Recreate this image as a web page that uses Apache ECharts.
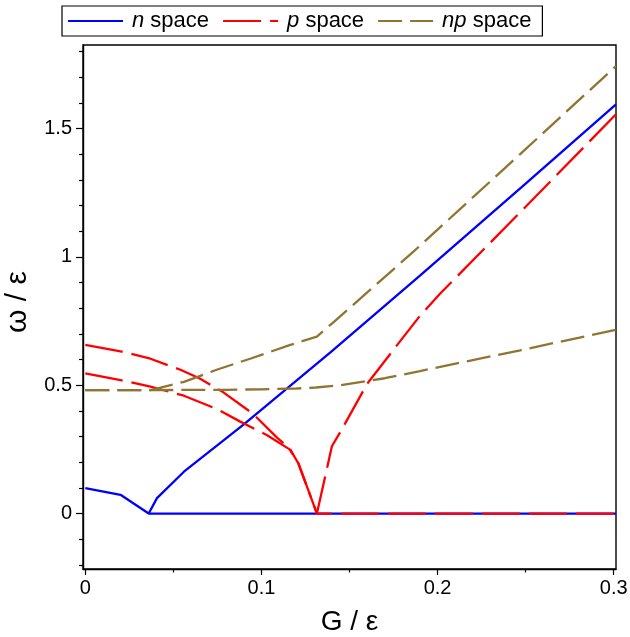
<!DOCTYPE html>
<html>
<head>
<meta charset="utf-8">
<script src="https://cdn.jsdelivr.net/npm/echarts@6/dist/echarts.min.js"></script>
<style>
html,body{margin:0;padding:0;background:#fff;}
#chart{width:630px;height:637px;}
</style>
</head>
<body>
<div id="chart"></div>
<script>
// ---- data ----
const seriesNames = ['n space', 'p space', 'np space'];

const xMajorTicks = [0, 0.1, 0.2, 0.3];
const xMinorTicks = [0.05, 0.15, 0.25];
const yMajorTicks = [0, 0.5, 1, 1.5];
const yMinorTicks = [-0.2, -0.1, 0.1, 0.2, 0.3, 0.4, 0.6, 0.7, 0.8, 0.9, 1.1, 1.2, 1.3, 1.4, 1.6, 1.7, 1.8];

const xRange = [-0.0013, 0.3013];
const yRange = [-0.216, 1.825];

// n space (solid blue)
const nSpaceLow = [[0, 0.099], [0.02, 0.073], [0.036, 0], [0.3013, 0]];
const nSpaceHigh = [[0.036, 0], [0.0407, 0.06], [0.056, 0.163], [0.09, 0.347], [0.14, 0.633], [0.19, 0.927], [0.25, 1.285], [0.3013, 1.594]];

// p space (red long dash)
const pSpaceUpper = [[0, 0.657], [0.02, 0.632], [0.037, 0.603], [0.054, 0.56], [0.065, 0.526], [0.078, 0.474], [0.095, 0.39], [0.109, 0.295], [0.116, 0.254], [0.121, 0.195], [0.1315, 0], [0.3013, 0]];
const pSpaceLower = [[0, 0.546], [0.02, 0.52], [0.037, 0.494], [0.056, 0.459], [0.075, 0.406], [0.088, 0.358], [0.103, 0.306], [0.116, 0.25], [0.121, 0.195], [0.1315, 0]];
const pSpaceRising = [[0.1315, 0], [0.14, 0.262], [0.145, 0.32], [0.16, 0.505], [0.177, 0.656], [0.19, 0.77], [0.2015, 0.857], [0.25, 1.195], [0.3013, 1.555]];

// np space (brown dash)
const npSpaceLower = [[0, 0.481], [0.04, 0.481], [0.08, 0.482], [0.1, 0.484], [0.12, 0.487], [0.131, 0.491], [0.145, 0.5], [0.17, 0.527], [0.19, 0.555], [0.2469, 0.636], [0.3013, 0.716]];
const npSpaceUpper = [[0, 0.481], [0.037, 0.481], [0.056, 0.513], [0.075, 0.561], [0.094, 0.604], [0.116, 0.656], [0.1315, 0.689], [0.141, 0.746], [0.1863, 1.02], [0.2469, 1.40], [0.3013, 1.743]];

// ---- styling ----
const FONT = '"Liberation Sans", Arial, Helvetica, sans-serif';
const BLUE = '#0000ff', RED = '#ff0000', BROWN = '#917431';
const RED_DASH = [38, 9], BROWN_DASH = [24, 8];
const LW = 2.3;

function lineSeries(name, data, color, dash) {
  return {
    type: 'line', name: name, data: data,
    symbol: 'none', showSymbol: false, animation: false, clip: true,
    itemStyle: { color: color },
    lineStyle: { color: color, width: LW, type: dash || 'solid' },
    emphasis: { disabled: true }
  };
}

const chart = echarts.init(document.getElementById('chart'), null, { renderer: 'canvas' });

const axisLineStyle = { show: true, onZero: false, lineStyle: { color: '#000', width: 1.4 } };
const hiddenLine = { show: false, onZero: false };
const tickStyle = { color: '#000', width: 1.2 };

chart.setOption({
  backgroundColor: '#fff',
  animation: false,
  grid: {
    left: 83, top: 45, right: 14, bottom: 68,
    containLabel: false, outerBoundsMode: 'none',
    show: true, borderColor: '#000', borderWidth: 1.4, backgroundColor: 'transparent'
  },
  legend: {
    data: seriesNames,
    left: 62, top: 6,
    padding: [4, 11, 4, 5],
    itemWidth: 55, itemHeight: 16, itemGap: 13,
    borderColor: '#000', borderWidth: 1.2,
    selectedMode: false,
    itemStyle: { color: 'rgba(0,0,0,0)', borderWidth: 0, opacity: 0 },
    textStyle: {
      fontFamily: FONT, fontSize: 22, color: '#000',
      rich: {
        i: { fontFamily: FONT, fontSize: 22, fontStyle: 'italic', color: '#000', padding: [0, 0, 0, 4] },
        r: { fontFamily: FONT, fontSize: 22, color: '#000' }
      }
    },
    formatter: function (name) {
      const k = name.indexOf(' ');
      return '{i|' + name.slice(0, k) + '}{r|' + name.slice(k) + '}';
    }
  },
  xAxis: [
    {
      type: 'value', min: xRange[0], max: xRange[1], position: 'bottom',
      axisLine: axisLineStyle,
      axisTick: { show: true, customValues: xMajorTicks, length: 6, inside: false, lineStyle: tickStyle },
      axisLabel: { customValues: xMajorTicks, fontFamily: FONT, fontSize: 20, color: '#000', margin: 9,
        formatter: function (v) { return String(v); } },
      splitLine: { show: false },
      name: 'G / ε', nameLocation: 'middle', nameGap: 39,
      nameTextStyle: { fontFamily: FONT, fontSize: 28, color: '#000' }
    },
    {
      type: 'value', min: xRange[0], max: xRange[1], position: 'bottom', gridIndex: 0,
      axisLine: hiddenLine,
      axisTick: { show: true, customValues: xMinorTicks, length: 3.5, inside: false, lineStyle: tickStyle },
      axisLabel: { show: false },
      splitLine: { show: false }
    }
  ],
  yAxis: [
    {
      type: 'value', min: yRange[0], max: yRange[1], position: 'left',
      axisLine: axisLineStyle,
      axisTick: { show: true, customValues: yMajorTicks, length: 7, inside: false, lineStyle: tickStyle },
      axisLabel: { customValues: yMajorTicks, fontFamily: FONT, fontSize: 20, color: '#000', margin: 11,
        formatter: function (v) { return String(v); } },
      splitLine: { show: false },
      name: 'ω / ε', nameLocation: 'middle', nameGap: 50,
      nameTextStyle: { fontFamily: FONT, fontSize: 30, color: '#000', padding: [0, 0, 0, 10] }
    },
    {
      type: 'value', min: yRange[0], max: yRange[1], position: 'left', gridIndex: 0,
      axisLine: hiddenLine,
      axisTick: { show: true, customValues: yMinorTicks, length: 4, inside: false, lineStyle: tickStyle },
      axisLabel: { show: false },
      splitLine: { show: false }
    }
  ],
  series: [
    lineSeries('n space', nSpaceLow, BLUE, null),
    lineSeries('n space', nSpaceHigh, BLUE, null),
    lineSeries('p space', pSpaceUpper, RED, RED_DASH),
    lineSeries('p space', pSpaceLower, RED, RED_DASH),
    lineSeries('p space', pSpaceRising, RED, RED_DASH),
    lineSeries('np space', npSpaceLower, BROWN, BROWN_DASH),
    lineSeries('np space', npSpaceUpper, BROWN, BROWN_DASH)
  ]
});
</script>
</body>
</html>
